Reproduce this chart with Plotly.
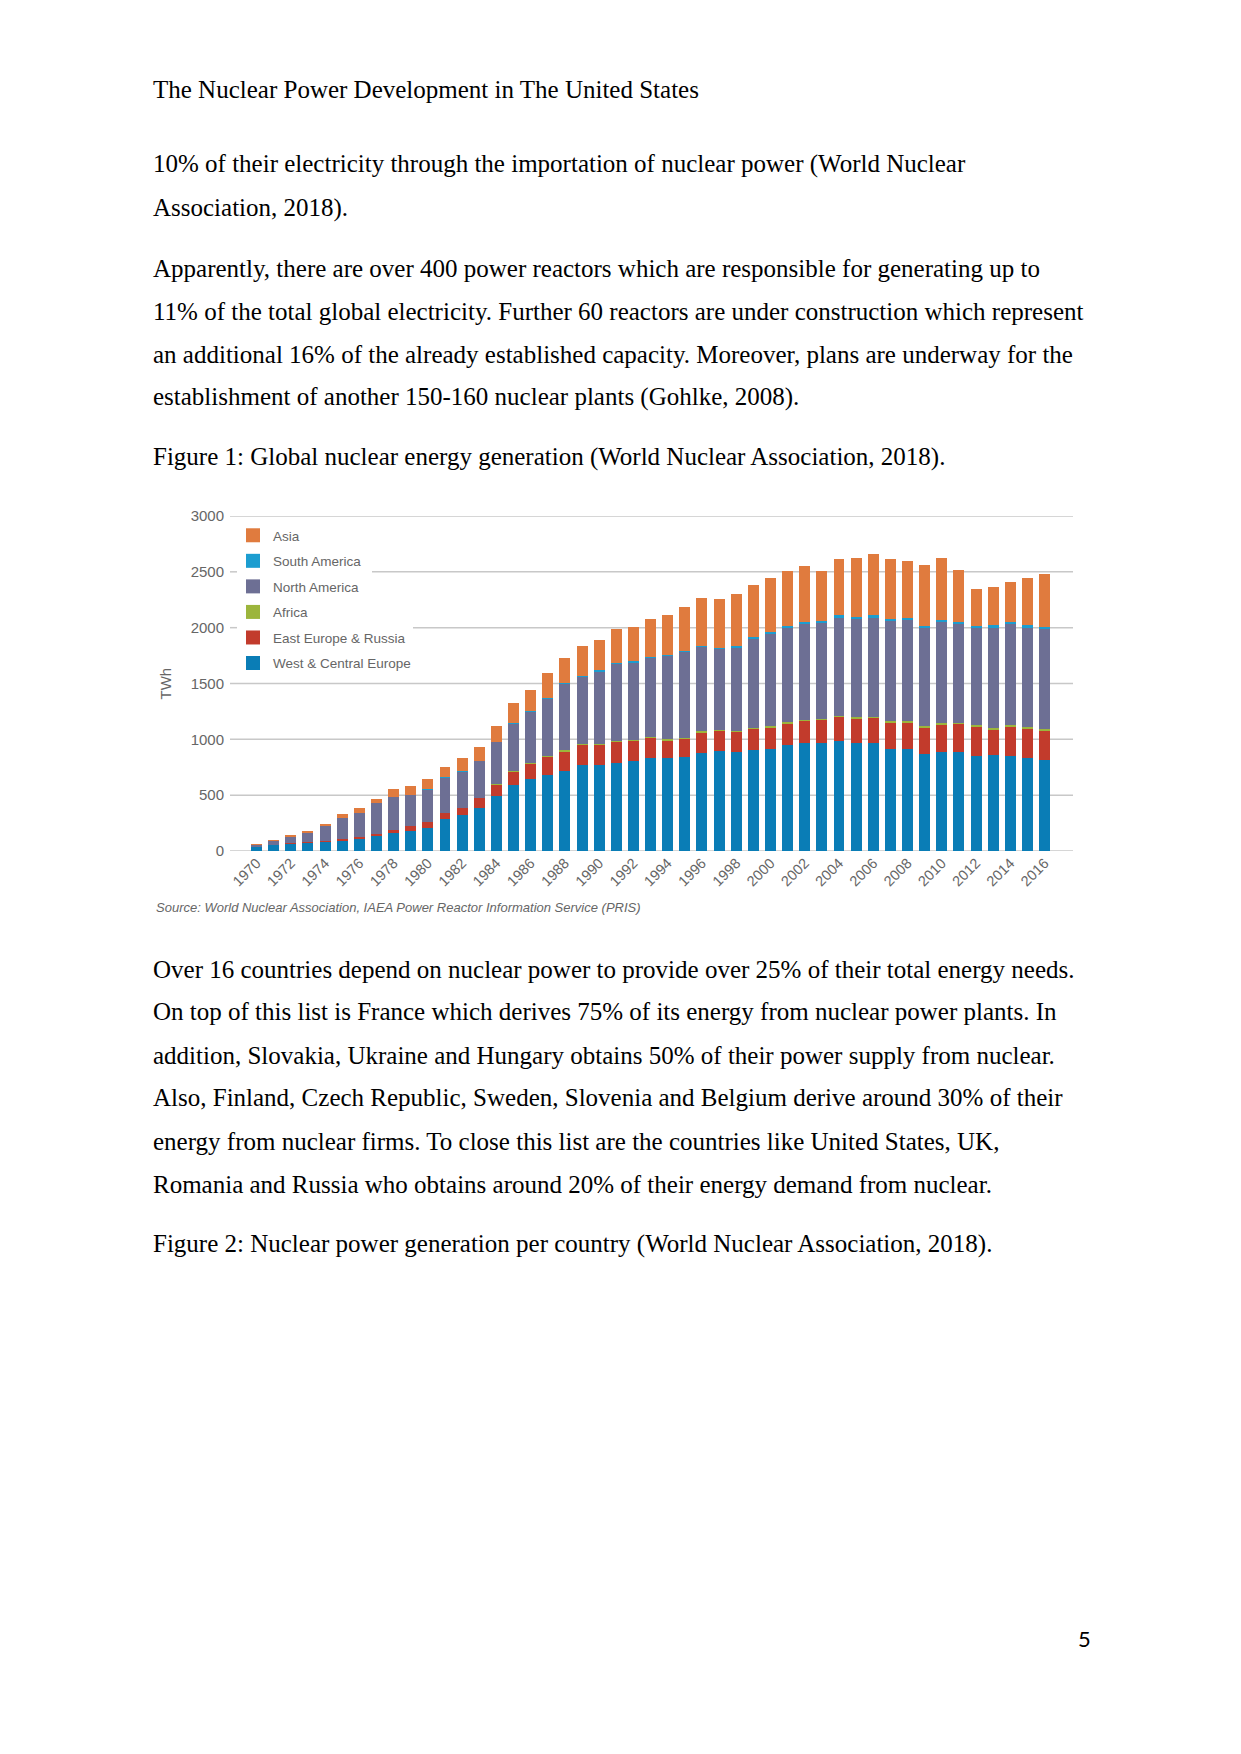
import plotly.graph_objects as go

# ---------------- data (TWh) ----------------
years = list(range(1970, 2017))
west_central_europe = [35, 55, 63, 73, 80, 92, 104, 132, 158, 180,
                       202, 284, 318, 382, 493, 588, 645, 681, 719, 770,
                       770, 791, 809, 835, 836, 845, 881, 898, 890, 904,
                       910, 949, 964, 970, 988, 964, 964, 910, 916, 866,
                       890, 884, 854, 857, 854, 836, 815]
east_europe_russia = [2, 3, 5, 7, 11, 15, 20, 24, 30, 42,
                      58, 60, 68, 93, 98, 122, 130, 163, 172, 180,
                      175, 183, 172, 173, 153, 158, 180, 175, 173, 187,
                      193, 190, 196, 199, 211, 220, 224, 236, 233, 235,
                      241, 251, 257, 230, 257, 259, 258]
africa = [0, 0, 0, 0, 0, 0, 0, 0, 0, 0,
          0, 0, 0, 0, 5, 6, 10, 10, 12, 12,
          12, 13, 11, 11, 12, 13, 13, 13, 13, 13,
          13, 13, 13, 13, 14, 14, 15, 14, 14, 15,
          15, 14, 14, 16, 14, 14, 17]
north_america = [18, 30, 60, 82, 130, 190, 215, 276, 296, 276,
                 288, 312, 325, 328, 378, 425, 460, 505, 595, 595,
                 650, 686, 696, 705, 741, 763, 754, 722, 746, 797,
                 828, 848, 864, 864, 878, 876, 886, 900, 902, 882,
                 902, 882, 868, 897, 905, 890, 898]
south_america = [0, 0, 0, 0, 2, 3, 3, 2, 2, 3,
                 3, 3, 3, 4, 5, 8, 10, 9, 10, 10,
                 10, 10, 10, 10, 11, 12, 12, 12, 12, 12,
                 14, 18, 18, 18, 20, 18, 20, 20, 21, 20,
                 22, 21, 22, 21, 20, 21, 22]
asia = [5, 8, 12, 15, 19, 27, 45, 33, 66, 80,
        90, 97, 116, 122, 143, 180, 185, 230, 220, 265,
        272, 303, 310, 340, 360, 395, 425, 440, 465, 465,
        484, 492, 497, 440, 504, 535, 554, 532, 511, 543,
        557, 464, 331, 340, 359, 422, 468]

series_names = ["West & Central Europe", "East Europe & Russia", "Africa",
                "North America", "South America", "Asia"]
series_values = [west_central_europe, east_europe_russia, africa,
                 north_america, south_america, asia]
series_colors = ["#0a7db6", "#c23b2c", "#9cb53c", "#6d6f94", "#1c9dd0", "#e07b3e"]
legend_ranks = [6, 5, 4, 3, 2, 1]

x_tick_years = list(range(1970, 2017, 2))
x_tick_labels = [str(y) for y in x_tick_years]
y_ticks = [0, 500, 1000, 1500, 2000, 2500, 3000]
y_tick_labels = [str(v) for v in y_ticks]

header_text = "The Nuclear Power Development in The United States"
para1 = ["10% of their electricity through the importation of nuclear power (World Nuclear",
         "Association, 2018)."]
para2 = ["Apparently, there are over 400 power reactors which are responsible for generating up to",
         "11% of the total global electricity. Further 60 reactors are under construction which represent",
         "an additional 16% of the already established capacity. Moreover, plans are underway for the",
         "establishment of another 150-160 nuclear plants (Gohlke, 2008)."]
caption1 = "Figure 1: Global nuclear energy generation (World Nuclear Association, 2018)."
para3 = ["Over 16 countries depend on nuclear power to provide over 25% of their total energy needs.",
         "On top of this list is France which derives 75% of its energy from nuclear power plants. In",
         "addition, Slovakia, Ukraine and Hungary obtains 50% of their power supply from nuclear.",
         "Also, Finland, Czech Republic, Sweden, Slovenia and Belgium derive around 30% of their",
         "energy from nuclear firms. To close this list are the countries like United States, UK,",
         "Romania and Russia who obtains around 20% of their energy demand from nuclear."]
caption2 = "Figure 2: Nuclear power generation per country (World Nuclear Association, 2018)."
source_text = "Source: World Nuclear Association, IAEA Power Reactor Information Service (PRIS)"
page_number = "5"

# ---------------- page geometry ----------------
# The browser keeps its default 8px body margin, so the figure is sized to fit the
# 1241x1754 window exactly and page-pixel positions are converted accordingly.
BODY = 8
W, H = 1241 - 2 * BODY, 1754 - 2 * BODY - 1
def px(x):
    return (x - BODY) / W
def py(y):
    return 1 - (y - BODY) / H

plot_left, plot_right = 230, 1073
plot_bottom, plot_top = 851, 516
grid_color = "#c8c8c8"
chart_text = "#666666"
sans = "Liberation Sans, Arial, sans-serif"

fig = go.Figure()
for name, vals, col in zip(series_names, series_values, series_colors):
    fig.add_trace(go.Bar(x=years, y=vals, name=name, legendgroup=name, showlegend=False,
                         marker=dict(color=col, line=dict(width=0)),
                         width=0.64))
# legend entries with larger square swatches
for name, col, rank in zip(series_names, series_colors, legend_ranks):
    fig.add_trace(go.Scatter(x=[None], y=[None], mode="markers", name=name,
                             legendgroup=name, legendrank=rank,
                             marker=dict(symbol="square", size=14, color=col,
                                         line=dict(width=0))))

# gridlines (with gaps where legend labels sit)
legend_gaps = {2500: (237, 372), 2000: (237, 413)}
shapes = []
for v in y_ticks:
    if v in legend_gaps:
        a, b = legend_gaps[v]
        segs = [(plot_left, a), (b, plot_right)]
    else:
        segs = [(plot_left, plot_right)]
    for s0, s1 in segs:
        shapes.append(dict(type="line", xref="paper", yref="y",
                           x0=px(s0), x1=px(s1), y0=v, y1=v,
                           line=dict(color=grid_color, width=1.5), layer="below"))

annotations = []
serif = dict(family="Liberation Serif, Times New Roman, serif", size=25, color="#000000")
def add_line(text, y, x=151, font=serif):
    annotations.append(dict(text=text, x=px(x), y=py(y), xref="paper", yref="paper",
                            xanchor="left", yanchor="middle", showarrow=False, font=font))

add_line(header_text, 89.5)
for t, y in zip(para1, [164.5, 208.2]):
    add_line(t, y)
for t, y in zip(para2, [268.6, 311.1, 354.8, 397.3]):
    add_line(t, y)
add_line(caption1, 456.6)
for t, y in zip(para3, [969.1, 1011.7, 1055.3, 1097.8, 1141.5, 1184.0]):
    add_line(t, y)
add_line(caption2, 1244.4)

annotations.append(dict(text="<i>" + source_text + "</i>", x=px(154), y=py(907.6),
                        xref="paper", yref="paper", xanchor="left", yanchor="middle",
                        showarrow=False,
                        font=dict(family=sans, size=13, color=chart_text)))
annotations.append(dict(text="TWh", x=px(164.5), y=py(684), xref="paper", yref="paper",
                        xanchor="center", yanchor="middle", textangle=-90, showarrow=False,
                        font=dict(family=sans, size=15, color=chart_text)))
annotations.append(dict(text=page_number, x=px(1084.5), y=py(1638.7), xref="paper",
                        yref="paper", xanchor="center", yanchor="middle", showarrow=False,
                        font=dict(family="Lato, Carlito, sans-serif", size=22, color="#000000")))

fig.update_layout(
    width=W, height=H, autosize=False,
    margin=dict(l=0, r=0, t=0, b=0, pad=0, autoexpand=False),
    paper_bgcolor="white", plot_bgcolor="white",
    barmode="stack", bargap=0,
    showlegend=True,
    legend=dict(x=px(233), y=py(520), xanchor="left", yanchor="top",
                bgcolor="rgba(0,0,0,0)", borderwidth=0,
                font=dict(family=sans, size=13.5, color=chart_text),
                itemwidth=30, tracegroupgap=5, traceorder="grouped"),
    xaxis=dict(domain=[px(plot_left), px(plot_right)], range=[1968.45, 2017.66],
               tickmode="array", tickvals=x_tick_years, ticktext=x_tick_labels,
               tickangle=-45, showgrid=False, zeroline=False, showline=False, ticks="",
               tickfont=dict(family=sans, size=14.5, color=chart_text),
               automargin=False, fixedrange=True),
    yaxis=dict(domain=[py(plot_bottom), py(plot_top)], range=[0, 3000],
               tickmode="array", tickvals=y_ticks, ticktext=y_tick_labels,
               showgrid=False, zeroline=False, showline=False, ticks="",
               ticklabelstandoff=5, automargin=False,
               tickfont=dict(family=sans, size=15, color=chart_text),
               fixedrange=True),
    shapes=shapes,
    annotations=annotations,
)

fig.write_html("out.html", include_plotlyjs=True,
               config={"displayModeBar": False, "staticPlot": True})
